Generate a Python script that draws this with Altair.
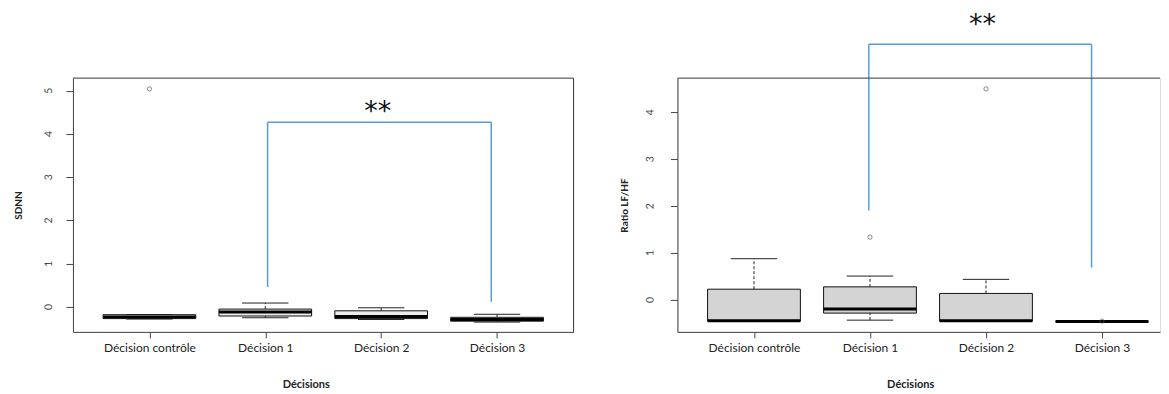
import altair as alt
import pandas as pd

# ---------------- data ----------------
categories = ["Décision contrôle", "Décision 1", "Décision 2", "Décision 3"]
positions = [1, 2, 3, 4]

# SDNN panel (box statistics)
sdnn_wlo = [-0.28, -0.25, -0.29, -0.35]
sdnn_q1 = [-0.27, -0.21, -0.27, -0.33]
sdnn_med = [-0.23, -0.12, -0.22, -0.29]
sdnn_q3 = [-0.18, -0.05, -0.09, -0.24]
sdnn_whi = [-0.18, 0.09, -0.02, -0.17]
sdnn_out_pos = [1]
sdnn_out_val = [5.04]
sdnn_ticks = [0, 1, 2, 3, 4, 5]
sdnn_bracket_x = [2.02, 3.95]
sdnn_bracket_bottom = [0.46, 0.12]
sdnn_bracket_top = [4.27]
sdnn_star_x = [2.97]
sdnn_star_y = [4.27]

# Ratio LF/HF panel
ratio_wlo = [-0.45, -0.43, -0.45, -0.46]
ratio_q1 = [-0.45, -0.28, -0.45, -0.46]
ratio_med = [-0.44, -0.19, -0.44, -0.46]
ratio_q3 = [0.23, 0.28, 0.14, -0.46]
ratio_whi = [0.88, 0.51, 0.44, -0.46]
ratio_out_pos = [2, 3, 4]
ratio_out_val = [1.34, 4.50, -0.45]
ratio_ticks = [0, 1, 2, 3, 4]
ratio_bracket_x = [1.99, 3.91]
ratio_bracket_bottom = [1.91, 0.69]
ratio_bracket_top = [5.45]
ratio_star_x = [2.97]
ratio_star_y = [5.64]

FONT = "Lato"
AXIS_COLOR = "#444444"
BLUE = "#5b9bd5"
BOX_HALF = 0.4
CAP_HALF = 0.2


def panel(wlo, q1, med, q3, whi, out_pos, out_val, ticks,
          bx, bbottom, btop, sx, sy, ytitle, ydomain, xdomain,
          width, height, fill, right_border, label_off, title_pad):
    stats = pd.DataFrame({"pos": positions, "cat": categories, "wlo": wlo,
                          "q1": q1, "med": med, "q3": q3, "whi": whi})
    outs = pd.DataFrame({"pos": out_pos, "val": out_val})
    vert = pd.DataFrame({"x": bx, "y": bbottom, "y2": btop * len(bx)})
    horiz = pd.DataFrame({"x": [bx[0]], "x2": [bx[1]], "y": btop})
    stars = pd.DataFrame({"x": sx, "y": sy, "t": ["**"]})
    tick_df = pd.DataFrame({"v": ticks, "lab": [str(t) for t in ticks]})

    label_expr = "[" + ",".join("'" + c + "'" for c in categories) + "][datum.value - 1]"
    xscale = alt.Scale(domain=xdomain, nice=False, zero=False)
    yscale = alt.Scale(domain=ydomain, nice=False, zero=False)
    xaxis = alt.Axis(values=positions, labelExpr=label_expr, title="Décisions",
                     titleX=233, titlePadding=25, labelPadding=5, tickSize=6,
                     grid=False, domainColor=AXIS_COLOR, tickColor=AXIS_COLOR,
                     labelColor="#222222", labelFont=FONT, labelFontSize=12,
                     titleFont=FONT, titleFontSize=11, titleFontWeight="bold",
                     titleColor="#222222", labelFlush=False, labelOverlap=False)
    yaxis = alt.Axis(values=ticks, labels=False, title=ytitle,
                     tickSize=7, grid=False,
                     domainColor=AXIS_COLOR, tickColor=AXIS_COLOR,
                     titleFont=FONT, titleFontSize=10, titleFontWeight="bold",
                     titleColor="#222222", titlePadding=title_pad)

    def X(f):
        return alt.X(f, type="quantitative", scale=xscale, axis=xaxis)

    def Y(f):
        return alt.Y(f, type="quantitative", scale=yscale, axis=yaxis)

    base = alt.Chart(stats).transform_calculate(
        xl="datum.pos - %s" % BOX_HALF, xr="datum.pos + %s" % BOX_HALF,
        cl="datum.pos - %s" % CAP_HALF, cr="datum.pos + %s" % CAP_HALF)

    whisk_up = base.mark_rule(color="#222222", strokeWidth=1, strokeDash=[3, 2]).encode(
        x=X("pos"), y=Y("q3"), y2="whi")
    whisk_dn = base.mark_rule(color="#222222", strokeWidth=1, strokeDash=[3, 2]).encode(
        x=X("pos"), y=Y("wlo"), y2="q1")
    cap_up = base.mark_rule(color="#222222", strokeWidth=1).encode(
        x=X("cl"), x2="cr", y=Y("whi"))
    cap_dn = base.mark_rule(color="#222222", strokeWidth=1).encode(
        x=X("cl"), x2="cr", y=Y("wlo"))
    box = base.mark_bar(fill=fill, stroke="#111111", strokeWidth=1).encode(
        x=X("xl"), x2="xr", y=Y("q1"), y2="q3")
    median = base.mark_rule(color="#000000", strokeWidth=3).encode(
        x=X("xl"), x2="xr", y=Y("med"))
    outliers = alt.Chart(outs).mark_point(shape="circle", filled=False, size=18,
                                          color="#555555", strokeWidth=1).encode(
        x=X("pos"), y=Y("val"))
    b_vert = alt.Chart(vert).mark_rule(color=BLUE, strokeWidth=1.5).encode(
        x=X("x"), y=Y("y"), y2="y2")
    b_horiz = alt.Chart(horiz).mark_rule(color=BLUE, strokeWidth=1.5).encode(
        x=X("x"), x2="x2", y=Y("y"))
    star_text = alt.Chart(stars).mark_text(font="DejaVu Sans", fontSize=27,
                                           color="#111111",
                                           baseline="alphabetic", dy=-2).encode(
        x=X("x"), y=Y("y"), text="t")
    # y tick labels (rotated, as in R's default las=0)
    ylabels = alt.Chart(tick_df).mark_text(angle=269.5, align="center",
                                           baseline="middle", font=FONT,
                                           fontSize=10.5, color="#444444").encode(
        x=alt.value(label_off), y=Y("v"), text="lab")

    one = pd.DataFrame({"k": [0]})
    top_line = alt.Chart(one).mark_rule(color=AXIS_COLOR, strokeWidth=1).encode(
        x=alt.value(0), x2=alt.value(width), y=alt.value(0))
    layers = [whisk_up, whisk_dn, cap_up, cap_dn, box, median, outliers,
              b_vert, b_horiz, star_text, ylabels, top_line]
    if right_border:
        right_line = alt.Chart(one).mark_rule(color=AXIS_COLOR, strokeWidth=1).encode(
            x=alt.value(width), y=alt.value(0), y2=alt.value(height))
        layers.append(right_line)
    return alt.layer(*layers).properties(width=width, height=height)


left = panel(sdnn_wlo, sdnn_q1, sdnn_med, sdnn_q3, sdnn_whi, sdnn_out_pos,
             sdnn_out_val, sdnn_ticks, sdnn_bracket_x, sdnn_bracket_bottom,
             sdnn_bracket_top, sdnn_star_x, sdnn_star_y, "SDNN",
             [-0.577, 5.29], [0.34, 4.66], 501, 254, "#ececec", True, -24, 42)
right = panel(ratio_wlo, ratio_q1, ratio_med, ratio_q3, ratio_whi, ratio_out_pos,
              ratio_out_val, ratio_ticks, ratio_bracket_x, ratio_bracket_bottom,
              ratio_bracket_top, ratio_star_x, ratio_star_y, "Ratio LF/HF",
              [-0.68, 4.73], [0.34, 4.50], 483, 254, "#d4d4d4", False, -27, 40)

chart = alt.hconcat(left, right, spacing=104, bounds="flush").properties(
    padding={"left": 5, "top": 2, "right": 0, "bottom": 0}
).configure_view(strokeWidth=0).configure(background="white")

chart.save("out.html", embed_options={"renderer": "svg", "actions": False})
